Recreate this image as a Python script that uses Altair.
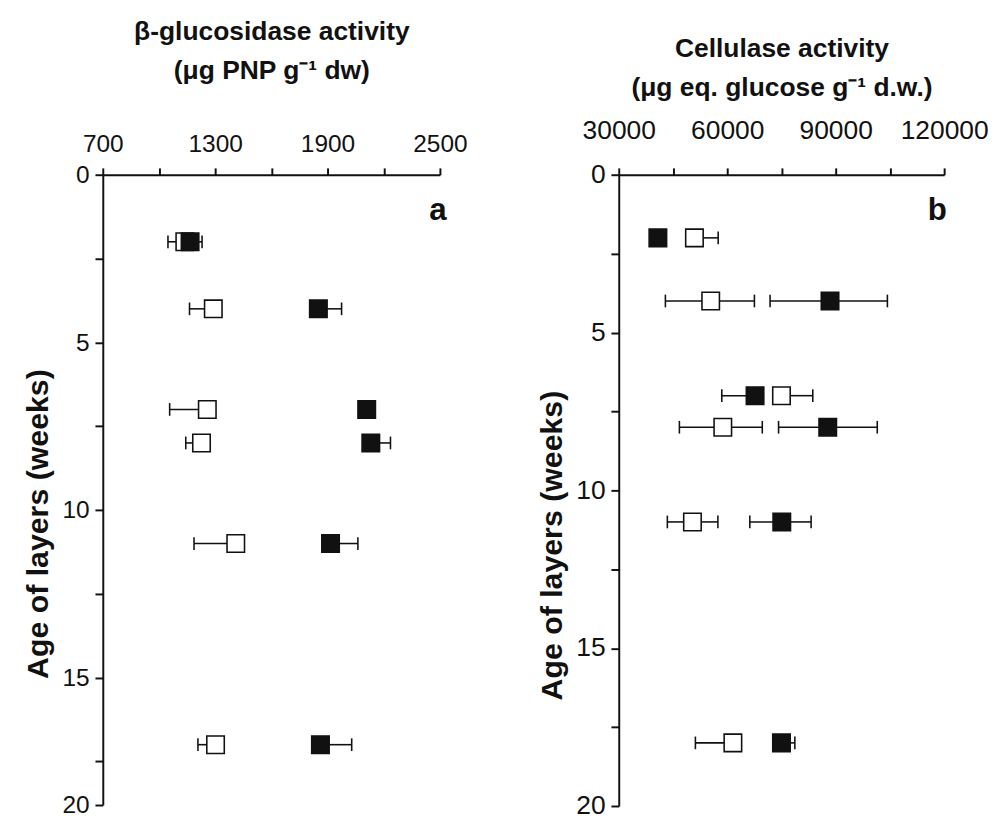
import altair as alt
import pandas as pd

# ---------------- data ----------------
# Panel a: beta-glucosidase activity (ug PNP g-1 dw)
age_a = [2, 4, 7, 8, 11, 17]
open_a = [1138, 1290, 1258, 1227, 1410, 1302]
open_a_lo = [1048, 1163, 1057, 1143, 1187, 1208]
open_a_hi = [1138, 1290, 1258, 1227, 1410, 1302]
filled_a = [1166, 1851, 2109, 2131, 1916, 1862]
filled_a_lo = [1166, 1851, 2109, 2131, 1916, 1862]
filled_a_hi = [1230, 1975, 2109, 2236, 2062, 2029]

# Panel b: cellulase activity (ug eq. glucose g-1 d.w.)
age_b = [2, 4, 7, 8, 11, 18]
open_b = [50930, 55430, 75000, 58780, 50380, 61570]
open_b_lo = [50930, 42900, 75000, 46770, 43440, 51200]
open_b_hi = [57500, 67520, 83660, 69700, 57420, 61570]
filled_b = [40820, 88430, 67700, 87800, 75090, 75000]
filled_b_lo = [40820, 71850, 58500, 74200, 66250, 75000]
filled_b_hi = [40820, 104300, 67700, 101500, 83200, 78700]

# axis settings
x_ticks_a = [700, 1000, 1300, 1600, 1900, 2200, 2500]
x_ticks_b = [30000, 45000, 60000, 75000, 90000, 105000, 120000]
y_ticks_a = [0, 2.5, 5, 7.5, 10, 12.5, 15, 17.5, 18.8]
y_ticks_b = [0, 2.5, 5, 7.5, 10, 12.5, 15, 17.5, 20]

INK = "#111111"
FONT = "Liberation Sans"


def points_df(ages, vals):
    return pd.DataFrame({"age": ages, "x": vals})


def whisker_df(ages, vals, lo, hi):
    rows = []
    for a, v, l, h in zip(ages, vals, lo, hi):
        if l != v:
            rows.append({"age": a, "x": v, "end": l})
        if h != v:
            rows.append({"age": a, "x": v, "end": h})
    return pd.DataFrame(rows)


def panel(ages, o, olo, ohi, f, flo, fhi, xdom, xticks, xstep, ytop, yticks, ylabel_expr,
          xtitle, w, h, lab_pad_x, title_pad_x, lab_size, letter, letter_dx, ytitle_y):
    xs = alt.Scale(domain=xdom, nice=False, zero=False)
    ys = alt.Scale(domain=[0, ytop], nice=False, zero=False, reverse=True)
    xaxis = alt.Axis(
        orient="top", values=xticks, format="d",
        labelExpr=f"(datum.value - {xdom[0]}) % {xstep} == 0 ? datum.label : ''",
        labelOverlap=False, labelFlush=False, labelFontSize=lab_size, labelFont=FONT,
        labelColor=INK, labelPadding=lab_pad_x, tickSize=7, tickWidth=2, tickColor=INK,
        domainColor=INK, domainWidth=2, grid=False,
        title=xtitle, titleFont=FONT, titleFontSize=27, titleFontWeight="bold",
        titleColor=INK, titleLineHeight=40, titlePadding=title_pad_x,
    )
    yaxis = alt.Axis(
        values=yticks, labelExpr=ylabel_expr, labelOverlap=False, labelFlush=False,
        labelFontSize=lab_size, labelFont=FONT, labelColor=INK, labelPadding=6,
        tickSize=8, tickWidth=2, tickColor=INK, domainColor=INK, domainWidth=2, grid=False,
        title="Age of layers (weeks)", titleFont=FONT, titleFontSize=31,
        titleFontWeight="bold", titleColor=INK, titlePadding=8, titleY=ytitle_y,
    )
    wh = pd.concat([whisker_df(ages, o, olo, ohi), whisker_df(ages, f, flo, fhi)],
                   ignore_index=True)
    base_w = alt.Chart(wh)
    rules = base_w.mark_rule(color=INK, strokeWidth=1.6).encode(
        x=alt.X("x:Q", scale=xs, axis=xaxis),
        x2="end:Q",
        y=alt.Y("age:Q", scale=ys, axis=yaxis),
    )
    caps = base_w.mark_tick(orient="vertical", size=13, thickness=1.6, color=INK, opacity=1).encode(
        x=alt.X("end:Q", scale=xs),
        y=alt.Y("age:Q", scale=ys),
    )
    opens = alt.Chart(points_df(ages, o)).mark_square(
        size=320, fill="white", stroke=INK, strokeWidth=1.6, opacity=1
    ).encode(x=alt.X("x:Q", scale=xs), y=alt.Y("age:Q", scale=ys))
    fills = alt.Chart(points_df(ages, f)).mark_square(
        size=320, fill=INK, stroke=INK, strokeWidth=1.6, opacity=1
    ).encode(x=alt.X("x:Q", scale=xs), y=alt.Y("age:Q", scale=ys))
    lab = alt.Chart(pd.DataFrame({"t": [letter]})).mark_text(
        font=FONT, fontSize=32, fontWeight="bold", color=INK, align="center", baseline="middle"
    ).encode(text="t:N", x=alt.value(w - letter_dx), y=alt.value(36))
    return alt.layer(rules, caps, opens, fills, lab).properties(width=w, height=h)


pa = panel(
    age_a, open_a, open_a_lo, open_a_hi, filled_a, filled_a_lo, filled_a_hi,
    [700, 2500], x_ticks_a, 600, 18.8, y_ticks_a,
    "datum.value == 18.8 ? '20' : (datum.value % 5 == 0 ? datum.label : '')",
    ["β-glucosidase activity", "(μg PNP g⁻¹ dw)"], 345, 645, 12, 48, 25, "a", 2, 357,
)
pb = panel(
    age_b, open_b, open_b_lo, open_b_hi, filled_b, filled_b_lo, filled_b_hi,
    [30000, 120000], x_ticks_b, 30000, 20, y_ticks_b,
    "datum.value % 5 == 0 ? datum.label : ''",
    ["Cellulase activity", "(μg eq. glucose g⁻¹ d.w.)"], 333, 646, 24, 16, 27, "b", 7, 379,
)

chart = alt.hconcat(pa, pb, spacing=183, bounds="flush").properties(
    padding={"left": 15, "top": 1, "right": 5, "bottom": 5},
    background="white",
).configure_view(strokeWidth=0, stroke="transparent")

chart.save("out.html", embed_options={"renderer": "svg", "actions": False})
